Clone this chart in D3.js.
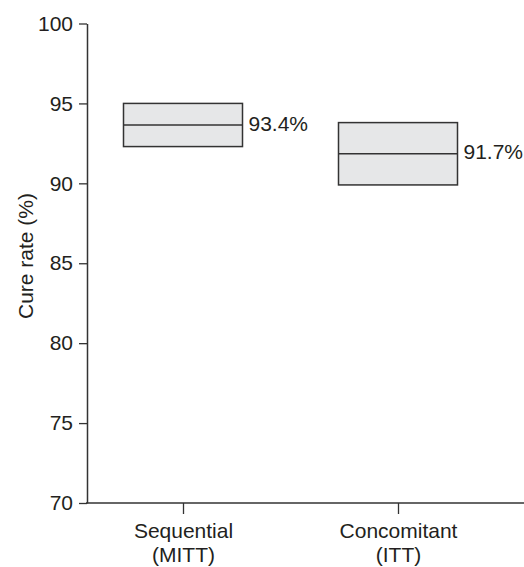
<!DOCTYPE html>
<html>
<head>
<meta charset="utf-8">
<script src="https://cdn.jsdelivr.net/npm/d3@7"></script>
<style>
  body { margin: 0; background: #fff; }
  svg text { font-family: "Liberation Sans", Arial, sans-serif; fill: #231f20; }
</style>
</head>
<body>
<svg id="chart" width="524" height="567"></svg>
<script>
// groups and the box values
let groups = ["Sequential", "Concomitant"];
let groupSub = ["(MITT)", "(ITT)"];
let boxLow = [92.3, 89.9];
let boxHigh = [95.0, 93.8];
let boxMid = [93.65, 91.85];
let rateLabels = ["93.4%", "91.7%"];
let yTicks = [70, 75, 80, 85, 90, 95, 100];

let svg = d3.select("#chart");
let ink = "#333";

let yScale = d3.scaleLinear().domain([70, 100]).range([503, 23.5]);
let xScale = d3.scalePoint().domain(groups).range([183, 398]);

let boxW = 119;

// y axis
let yAxis = svg.append("g")
    .attr("transform", "translate(87,0)")
    .call(d3.axisLeft(yScale).tickValues(yTicks).tickSize(8).tickPadding(6).tickSizeOuter(0));
yAxis.select(".domain").attr("stroke", ink).attr("stroke-width", 1.5);
yAxis.selectAll(".tick line").attr("stroke", ink).attr("stroke-width", 1.3);
yAxis.selectAll(".tick text").attr("font-size", 21).attr("fill", "#231f20");

// x axis, the baseline runs to the right edge
let xAxis = svg.append("g")
    .attr("transform", "translate(0,503)")
    .call(d3.axisBottom(xScale).tickSize(11).tickSizeOuter(0).tickFormat(""));
xAxis.select(".domain").remove();
xAxis.append("line")
    .attr("x1", 86).attr("x2", 524)
    .attr("stroke", ink).attr("stroke-width", 1.5);
xAxis.selectAll(".tick line").attr("stroke", ink).attr("stroke-width", 1.3);

let catText = xAxis.selectAll(".tick").append("text")
    .attr("text-anchor", "middle")
    .attr("font-size", 21)
    .attr("y", 35);
catText.append("tspan").attr("x", 0).text(d => d);
catText.append("tspan").attr("x", 0).attr("dy", 24).text(d => groupSub[groups.indexOf(d)]);

svg.append("text")
    .attr("transform", "translate(33,256) rotate(-90)")
    .attr("text-anchor", "middle")
    .attr("font-size", 21)
    .text("Cure rate (%)");

// boxes
let boxes = svg.append("g").selectAll("g")
    .data(groups)
    .join("g");

boxes.append("rect")
    .attr("x", d => xScale(d) - boxW / 2)
    .attr("y", (d, i) => yScale(boxHigh[i]))
    .attr("width", boxW)
    .attr("height", (d, i) => yScale(boxLow[i]) - yScale(boxHigh[i]))
    .attr("fill", "#e6e7e8")
    .attr("stroke", ink)
    .attr("stroke-width", 1.5);

boxes.append("line")
    .attr("x1", d => xScale(d) - boxW / 2)
    .attr("x2", d => xScale(d) + boxW / 2)
    .attr("y1", (d, i) => yScale(boxMid[i]))
    .attr("y2", (d, i) => yScale(boxMid[i]))
    .attr("stroke", ink)
    .attr("stroke-width", 1.5);

boxes.append("text")
    .attr("x", d => xScale(d) + boxW / 2 + 6)
    .attr("y", (d, i) => yScale(boxMid[i]))
    .attr("dy", "0.27em")
    .attr("font-size", 21)
    .text((d, i) => rateLabels[i]);
</script>
</body>
</html>
